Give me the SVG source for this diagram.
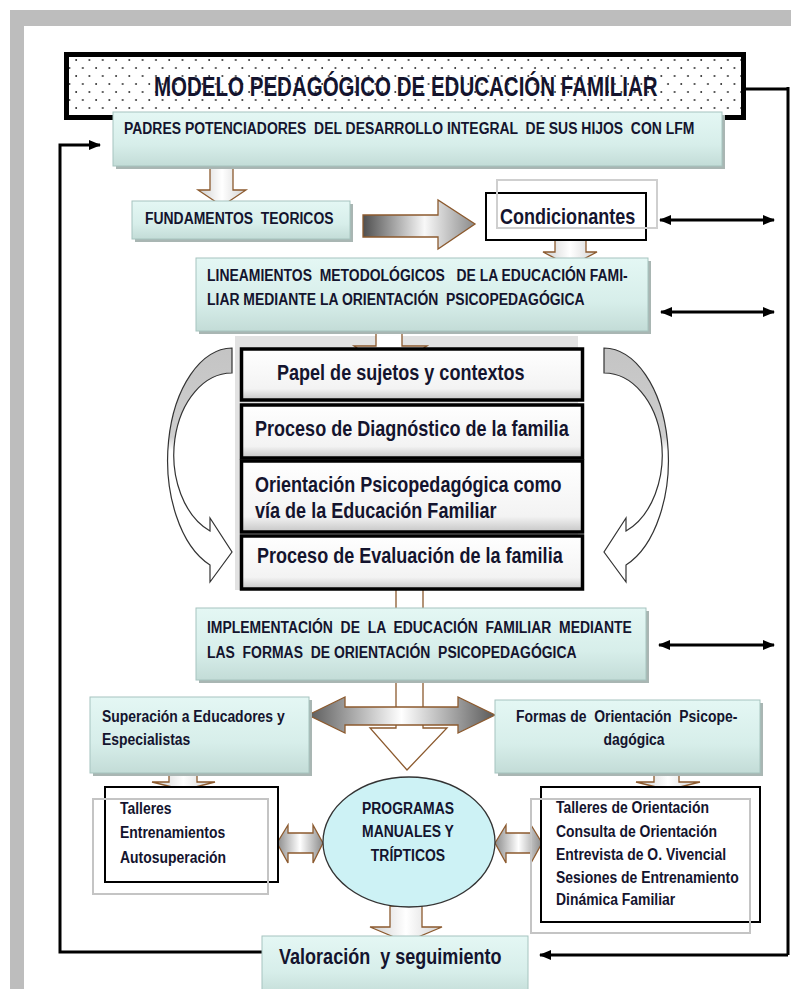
<svg xmlns="http://www.w3.org/2000/svg" width="791" height="989" viewBox="0 0 791 989">
<defs>
<style>
.t{font-family:"Liberation Sans",Arial,sans-serif;font-weight:bold;fill:#14142e;white-space:pre}
.s{font-size:17px}
.b{font-size:22px}
.cy{fill:url(#cyan);stroke:#a6c4bf;stroke-width:1}
.sh{fill:#a9b6b3}
.br{stroke:#8c5a2e;stroke-width:1.3}
.ln{fill:none;stroke:#000;stroke-width:3}
.stk{fill:url(#stackg);stroke:#000;stroke-width:3.5}
</style>
<pattern id="dots" width="13.3" height="16" patternUnits="userSpaceOnUse">
<rect width="13.3" height="16" fill="#fff"/>
<circle cx="3" cy="4" r="0.9" fill="#222"/>
<circle cx="9.65" cy="12" r="0.9" fill="#222"/>
</pattern>
<linearGradient id="cyan" x1="0" y1="0" x2="0" y2="1">
<stop offset="0" stop-color="#e4f7f4"/><stop offset="0.6" stop-color="#d7eeea"/><stop offset="1" stop-color="#c3dcd7"/>
</linearGradient>
<linearGradient id="stackg" x1="0" y1="0" x2="0" y2="1">
<stop offset="0" stop-color="#fff"/><stop offset="0.78" stop-color="#f3f3f3"/><stop offset="1" stop-color="#c6c6c6"/>
</linearGradient>
<linearGradient id="shaft" x1="0" y1="0" x2="1" y2="0">
<stop offset="0" stop-color="#cfcfcf"/><stop offset="0.5" stop-color="#fff"/><stop offset="1" stop-color="#d2d2d2"/>
</linearGradient>
<linearGradient id="bigr" x1="0" y1="0" x2="1" y2="0">
<stop offset="0" stop-color="#4f4f4f"/><stop offset="0.55" stop-color="#f8f8f8"/><stop offset="1" stop-color="#8a8a8a"/>
</linearGradient>
<linearGradient id="dbl" x1="0" y1="0" x2="1" y2="0">
<stop offset="0" stop-color="#5a5a5a"/><stop offset="0.5" stop-color="#fff"/><stop offset="1" stop-color="#5a5a5a"/>
</linearGradient>
<linearGradient id="sdbl" x1="0" y1="0" x2="1" y2="0">
<stop offset="0" stop-color="#8a8a8a"/><stop offset="0.5" stop-color="#fff"/><stop offset="1" stop-color="#8a8a8a"/>
</linearGradient>
<linearGradient id="curv" x1="0" y1="0" x2="0" y2="1">
<stop offset="0" stop-color="#c4c4c4"/><stop offset="0.38" stop-color="#cecece"/><stop offset="0.44" stop-color="#fff"/><stop offset="1" stop-color="#fff"/>
</linearGradient>
<marker id="ah" viewBox="0 0 12 10" refX="11" refY="5" markerWidth="12" markerHeight="10" markerUnits="userSpaceOnUse" orient="auto-start-reverse">
<path d="M0,0 L12,5 L0,10 Z" fill="#000"/>
</marker>
</defs>

<rect x="10" y="10" width="781" height="979" fill="#bdbdbd"/>
<rect x="24" y="26" width="767" height="963" fill="#fff"/>

<g id="stack-backing">
<rect x="235" y="336" width="343" height="254" fill="#e2e2e2"/>
</g>

<g id="connectors">
<polyline class="ln" points="262,952 60,952 60,145 100,145" marker-end="url(#ah)"/>
<polyline class="ln" points="746,89 788,89" stroke-width="4.5"/>
<polyline class="ln" points="788,87 788,955" stroke-width="2.5"/>
<polyline class="ln" points="788,955 540,955" marker-end="url(#ah)"/>
<line class="ln" x1="660" y1="220" x2="774" y2="220" marker-start="url(#ah)" marker-end="url(#ah)"/>
<line class="ln" x1="661" y1="312" x2="774" y2="312" marker-start="url(#ah)" marker-end="url(#ah)"/>
<line class="ln" x1="659" y1="645" x2="774" y2="645" marker-start="url(#ah)" marker-end="url(#ah)"/>
<path class="br" fill="url(#shaft)" d="M210,166 L233,166 L233,190 L246,190 L222,206 L198,190 L210,190 Z"/>
<path class="br" fill="url(#bigr)" d="M363,215 L438,215 L438,200 L475,224 L438,249 L438,237 L363,237 Z"/>
<path class="br" fill="url(#shaft)" d="M555,240 L586,240 L586,252 L597,252 L570,266 L543,252 L555,252 Z"/>
<path class="br" fill="#fff" d="M376,331 L402,331 L402,346 L427,346 L389,370 L354,346 L376,346 Z"/>
<path class="br" fill="#fff" d="M396,588 L423,588 L423,728 L447,728 L407,770 L370,728 L396,728 Z"/>
<path class="br" fill="url(#dbl)" d="M308,715 L345,697 L345,707 L458,707 L458,697 L495,715 L458,733 L458,725 L345,725 L345,733 Z"/>
<path class="br" fill="url(#shaft)" d="M169,773 L197,773 L197,782 L215,782 L184,790 L152,782 L169,782 Z"/>
<path class="br" fill="url(#shaft)" d="M654,773 L679,773 L679,782 L700,782 L668,790 L636,782 L654,782 Z"/>
<path class="br" fill="url(#sdbl)" d="M277,843 L288,825 L288,833 L313,833 L313,825 L323,843 L313,863 L313,853 L288,853 L288,863 Z"/>
<path class="br" fill="url(#sdbl)" d="M495,843 L506,825 L506,833 L531,833 L531,825 L542,843 L531,863 L531,853 L506,853 L506,863 Z"/>
<path class="br" fill="url(#shaft)" d="M390,906 L422,906 L422,927 L442,927 L406,942 L370,927 L390,927 Z"/>
<path fill="url(#curv)" stroke="#333" stroke-width="1.2" d="M232,348 A65,112 0 0 0 210,565 L210,582 L232,552 L210,518 L210,531 A58,82 0 0 1 232,373 Z"/>
<path fill="url(#curv)" stroke="#333" stroke-width="1.2" transform="translate(836,0) scale(-1,1)" d="M232,348 A65,112 0 0 0 210,565 L210,582 L232,552 L210,518 L210,531 A58,82 0 0 1 232,373 Z"/>
</g>

<g id="title">
<rect x="66.5" y="54.5" width="677" height="63" fill="url(#dots)" stroke="#000" stroke-width="5"/>
<text class="t" font-size="27" fill="#111" transform="translate(154,96) scale(0.76,1)">MODELO PEDAGÓGICO DE EDUCACIÓN FAMILIAR</text>
</g>

<g id="padres">
<rect class="sh" x="116" y="115" width="609" height="54"/>
<rect class="cy" x="113" y="112" width="609" height="54"/>
<text class="t s" transform="translate(124,134) scale(0.82,1)">PADRES POTENCIADORES  DEL DESARROLLO INTEGRAL  DE SUS HIJOS  CON LFM</text>
</g>

<g id="fundamentos">
<rect class="sh" x="135" y="204" width="218" height="38"/>
<rect class="cy" x="132" y="201" width="218" height="38"/>
<text class="t s" transform="translate(145,224) scale(0.82,1)">FUNDAMENTOS  TEORICOS</text>
</g>

<g id="condicionantes">
<rect x="486" y="193" width="160" height="47" fill="#fff" stroke="#000" stroke-width="2"/>
<rect x="497" y="180" width="160" height="48" fill="none" stroke="#cfcfcf" stroke-width="2"/>
<text class="t b" transform="translate(500,224) scale(0.82,1)">Condicionantes</text>
</g>

<g id="lineamientos">
<rect class="sh" x="199" y="261" width="452" height="73"/>
<rect class="cy" x="196" y="258" width="452" height="73"/>
<text class="t s" transform="translate(207,281) scale(0.82,1)">LINEAMIENTOS  METODOLÓGICOS   DE LA EDUCACIÓN FAMI-</text>
<text class="t s" transform="translate(207,305) scale(0.82,1)">LIAR MEDIANTE LA ORIENTACIÓN  PSICOPEDAGÓGICA</text>
</g>

<g id="stack">
<g id="papel">
<rect class="stk" x="241.5" y="349" width="341" height="51"/>
<text class="t b" transform="translate(277,380) scale(0.82,1)">Papel de sujetos y contextos</text>
</g>
<g id="diagnostico">
<rect class="stk" x="241.5" y="405" width="341" height="53"/>
<text class="t b" transform="translate(255,436) scale(0.82,1)">Proceso de Diagnóstico de la familia</text>
</g>
<g id="orientacion">
<rect class="stk" x="241.5" y="461" width="341" height="71"/>
<text class="t b" transform="translate(255,492) scale(0.82,1)">Orientación Psicopedagógica como</text>
<text class="t b" transform="translate(255,518) scale(0.82,1)">vía de la Educación Familiar</text>
</g>
<g id="evaluacion">
<rect class="stk" x="241.5" y="536" width="341" height="53"/>
<text class="t b" transform="translate(257,563) scale(0.82,1)">Proceso de Evaluación de la familia</text>
</g>
</g>

<g id="implementacion">
<rect class="sh" x="199" y="611" width="450" height="72"/>
<rect class="cy" x="196" y="608" width="450" height="72"/>
<text class="t s" transform="translate(207,633) scale(0.82,1)">IMPLEMENTACIÓN  DE  LA  EDUCACIÓN  FAMILIAR  MEDIANTE</text>
<text class="t s" transform="translate(207,658) scale(0.82,1)">LAS  FORMAS  DE ORIENTACIÓN  PSICOPEDAGÓGICA</text>
</g>

<g id="superacion">
<rect class="sh" x="93" y="700" width="219" height="76"/>
<rect class="cy" x="90" y="697" width="219" height="76"/>
<text class="t s" transform="translate(102,722) scale(0.82,1)">Superación a Educadores y</text>
<text class="t s" transform="translate(102,745) scale(0.82,1)">Especialistas</text>
</g>

<g id="formas">
<rect class="sh" x="498" y="703" width="265" height="73"/>
<rect class="cy" x="495" y="700" width="265" height="73"/>
<text class="t s" transform="translate(516,722) scale(0.82,1)">Formas de  Orientación  Psicope-</text>
<text class="t s" text-anchor="middle" transform="translate(634,745) scale(0.82,1)">dagógica</text>
</g>

<g id="talleres">
<rect x="105" y="787" width="173" height="95" fill="#fff" stroke="#000" stroke-width="2"/>
<rect x="93" y="799" width="175" height="95" fill="none" stroke="#c4c4c4" stroke-width="2"/>
<text class="t s" transform="translate(120,814) scale(0.82,1)">Talleres</text>
<text class="t s" transform="translate(120,838) scale(0.82,1)">Entrenamientos</text>
<text class="t s" transform="translate(120,863) scale(0.82,1)">Autosuperación</text>
</g>

<g id="programas">
<ellipse cx="409" cy="842" rx="86" ry="65" fill="#cdf2f5" stroke="#333" stroke-width="1.3"/>
<text class="t s" text-anchor="middle" transform="translate(408,814) scale(0.82,1)">PROGRAMAS</text>
<text class="t s" text-anchor="middle" transform="translate(408,837) scale(0.82,1)">MANUALES Y</text>
<text class="t s" text-anchor="middle" transform="translate(408,861) scale(0.82,1)">TRÍPTICOS</text>
</g>

<g id="lista">
<rect x="541" y="787" width="219" height="135" fill="#fff" stroke="#000" stroke-width="2"/>
<rect x="531" y="799" width="219" height="134" fill="none" stroke="#c4c4c4" stroke-width="2"/>
<text class="t s" transform="translate(556,813) scale(0.82,1)">Talleres de Orientación</text>
<text class="t s" transform="translate(556,837) scale(0.82,1)">Consulta de Orientación</text>
<text class="t s" transform="translate(556,860) scale(0.82,1)">Entrevista de O. Vivencial</text>
<text class="t s" transform="translate(556,883) scale(0.82,1)">Sesiones de Entrenamiento</text>
<text class="t s" transform="translate(556,905) scale(0.82,1)">Dinámica Familiar</text>
</g>

<g id="valoracion">
<rect class="cy" x="262" y="936" width="266" height="60"/>
<text class="t b" transform="translate(279,964) scale(0.82,1)">Valoración  y seguimiento</text>
</g>
</svg>
